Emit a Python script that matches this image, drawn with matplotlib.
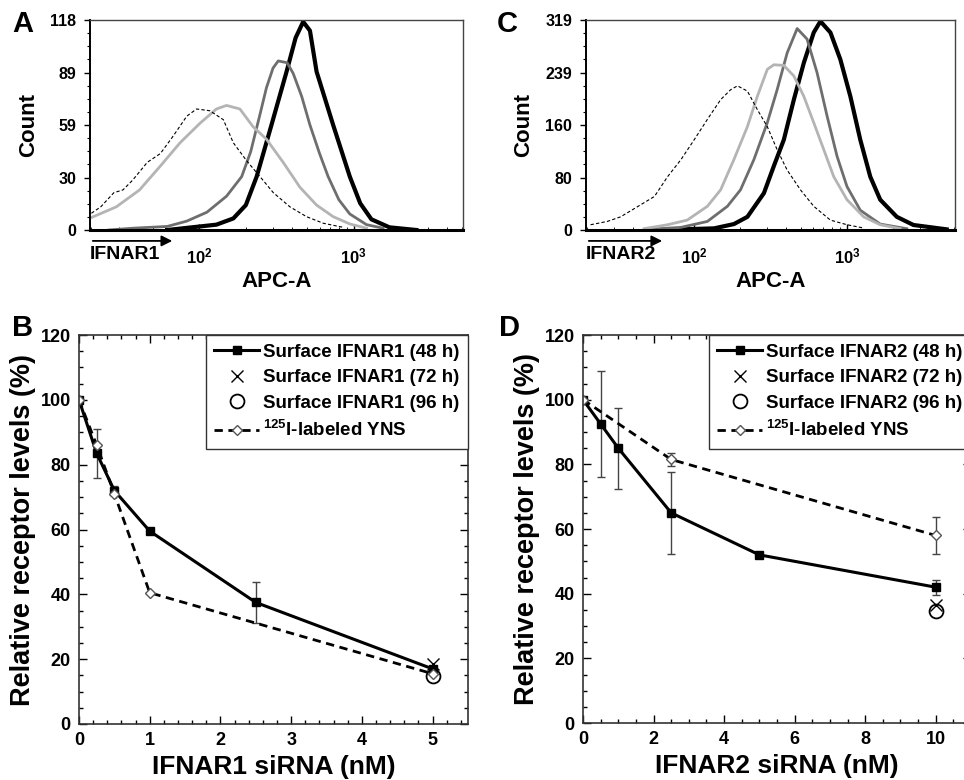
import numpy as np
import matplotlib
matplotlib.use("Agg")
import matplotlib.pyplot as plt
from matplotlib.ticker import MultipleLocator, AutoMinorLocator, FixedLocator, NullFormatter

plt.rcParams['font.family'] = ['Liberation Sans', 'DejaVu Sans']
plt.rcParams['font.weight'] = 'bold'
plt.rcParams['mathtext.fontset'] = 'custom'
plt.rcParams['mathtext.rm'] = 'Liberation Sans:bold'
plt.rcParams['mathtext.it'] = 'Liberation Sans:bold'
plt.rcParams['mathtext.bf'] = 'Liberation Sans:bold'

# ---- panel A: IFNAR1 flow histograms (APC-A value, count)
a_black_x = [62, 129, 166, 200, 235, 293, 367, 420, 470, 520, 574, 735, 942, 1100, 1300, 1700, 2541]
a_black_y = [0, 3, 6.5, 14, 30, 59, 89, 108, 117, 112, 89, 59, 30, 15, 6, 1.5, 0]
a_dgray_x = [26, 37, 62, 83, 112, 150, 188, 215, 247, 272, 300, 324, 370, 405, 460, 520, 600, 682, 800, 942, 1208, 1549]
a_dgray_y = [0, 1, 2, 5, 10, 19, 30, 44, 65, 80, 91, 95, 94, 88, 75, 59, 43, 30, 17, 9, 3, 1]
a_lgray_x = [20, 29, 41, 56, 75, 101, 129, 150, 183, 223, 272, 349, 448, 574, 735, 942, 1208]
a_lgray_y = [7, 13, 22.5, 36, 49, 60, 68, 70, 68, 58, 51, 38, 24, 14, 7.5, 3.4, 1]
a_ctrl_x = [20, 23, 28, 32, 37, 46, 56, 68, 83, 96, 117, 143, 166, 202, 247, 301, 386, 494, 634, 853]
a_ctrl_y = [9.4, 13, 21, 22.5, 28, 38, 43, 53, 64, 68, 67, 62, 49, 39, 30, 21, 13, 7.5, 3.8, 1.5]
a_ylabels = ['0', '30', '59', '89', '118']
a_ymax = 118

# ---- panel C: IFNAR2 flow histograms
c_black_x = [82, 135, 182, 223, 286, 332, 386, 449, 522, 606, 670, 779, 905, 1052, 1222, 1420, 1650, 2118, 2722, 4490]
c_black_y = [1, 2.5, 9, 20, 56, 97, 137, 198, 254, 300, 317, 300, 259, 203, 137, 81, 46, 20, 7.6, 1]
c_dgray_x = [50, 82, 122, 165, 201, 246, 301, 349, 406, 472, 548, 637, 741, 861, 1000, 1222, 1650, 2461]
c_dgray_y = [1, 4, 13, 36, 61, 107, 163, 213, 269, 306, 290, 239, 173, 112, 66, 30, 9, 2]
c_lgray_x = [47, 67, 90, 122, 149, 182, 223, 259, 301, 332, 386, 449, 522, 606, 705, 819, 1000, 1285, 1650, 2228]
c_lgray_y = [2, 8, 15, 36, 61, 107, 157, 203, 244, 251, 250, 234, 203, 163, 122, 81, 46, 20, 8, 2]
c_ctrl_x = [21, 27, 33, 43, 55, 67, 82, 100, 122, 149, 173, 192, 223, 259, 301, 349, 406, 496, 606, 779, 1000, 1285]
c_ctrl_y = [8, 13, 20, 36, 51, 81, 107, 137, 168, 198, 213, 219, 211, 183, 157, 122, 91, 61, 36, 15, 8, 3]
c_ylabels = ['0', '80', '160', '239', '319']
c_ymax = 319

# ---- panel B: IFNAR1 siRNA titration
b_conc = [0, 0.25, 0.5, 1, 2.5, 5]
b_48h = [100, 83.5, 72, 59.5, 37.5, 17]
b_48h_err = [0, 7.5, 1.5, 0.8, 6.3, 1]
b_yns_conc = [0, 0.25, 0.5, 1, 5]
b_yns = [100, 86, 71, 40.5, 15.5]
b_72h_conc, b_72h = [5], [18.6]
b_96h_conc, b_96h = [5], [14.7]

# ---- panel D: IFNAR2 siRNA titration
d_conc = [0, 0.5, 1, 2.5, 5, 10]
d_48h = [100, 92.5, 85, 65, 52, 42]
d_48h_err = [0, 16.5, 12.5, 12.7, 0.5, 2.3]
d_yns_conc = [0, 2.5, 10]
d_yns = [100, 81.5, 58]
d_yns_err = [0, 2, 5.8]
d_72h_conc, d_72h = [10], [36.5]
d_96h_conc, d_96h = [10], [34.5]

W, H = 964, 780
fig = plt.figure(figsize=(W / 100, H / 100), dpi=100)


def px_axes(left, top, right, bottom):
    return fig.add_axes([left / W, 1 - bottom / H, (right - left) / W, (bottom - top) / H])


def histogram(ax, curves, ymax, ylabels, receptor, arrow_frac):
    styles = [('black', 3.0, '-'), ('#6e6e6e', 2.0, '-'), ('#b4b4b4', 2.0, '-'), ('black', 0.8, (0, (3, 2)))]
    for (x, y), (col, lw, ls) in zip(curves, styles):
        ax.plot(x, y, color=col, lw=lw, ls=ls, solid_joinstyle='round')
    ax.set_xscale('log')
    ax.set_xlim(19.6, 5090)
    ax.set_ylim(0, ymax)
    ax.set_yticks(np.linspace(0, ymax, 5))
    ax.set_yticklabels(ylabels, fontsize=11.5, fontweight='bold')
    ax.yaxis.set_minor_locator(AutoMinorLocator(4))
    ax.tick_params(axis='y', which='major', direction='out', length=4, width=1, pad=6)
    ax.tick_params(axis='y', which='minor', direction='out', length=2, width=0.8)
    ax.xaxis.set_major_locator(FixedLocator([100, 1000]))
    ax.set_xticklabels([r'10$^{2}$', r'10$^{3}$'], fontsize=12, fontweight='bold')
    ax.xaxis.set_minor_formatter(NullFormatter())
    ax.tick_params(axis='x', which='major', direction='in', length=4, width=1, pad=12)
    ax.tick_params(axis='x', which='minor', direction='in', length=2, width=0.6)
    ax.spines['bottom'].set_linewidth(2.2)
    ax.spines['left'].set_linewidth(1.4)
    for s in ['top', 'right']:
        ax.spines[s].set_linewidth(1.0)
        ax.spines[s].set_color('#444444')
    ax.set_ylabel('Count', fontsize=16, fontweight='bold', labelpad=8)
    ax.set_xlabel('APC-A', fontsize=16, fontweight='bold', labelpad=3)
    ax.annotate('', xy=(arrow_frac, -0.052), xytext=(0, -0.052), xycoords='axes fraction',
                arrowprops=dict(arrowstyle='-|>', color='black', lw=1.3, mutation_scale=16),
                annotation_clip=False)
    ax.text(0.0, -0.115, receptor, transform=ax.transAxes, ha='left', va='center',
            fontsize=14, fontweight='bold')


def titration(ax, xmax, xmajor, xminor):
    ax.set_xlim(0, xmax)
    ax.set_ylim(0, 120)
    ax.xaxis.set_major_locator(MultipleLocator(xmajor))
    ax.xaxis.set_minor_locator(MultipleLocator(xminor))
    ax.yaxis.set_major_locator(MultipleLocator(20))
    ax.yaxis.set_minor_locator(MultipleLocator(5))
    ax.tick_params(which='both', direction='in', top=True, right=True, labelsize=13, width=1)
    ax.tick_params(which='major', length=6, pad=6)
    ax.tick_params(which='minor', length=3)
    for lab in ax.get_xticklabels() + ax.get_yticklabels():
        lab.set_fontweight('bold')
    for s in ax.spines.values():
        s.set_linewidth(1.2)
        s.set_color('#333333')
    ax.set_ylabel('Relative receptor levels (%)', fontsize=19.5, fontweight='bold', labelpad=3)


def curves(ax, receptor, conc, s48, s48_err, yconc, yns, yerr, c72, v72, c96, v96):
    ax.errorbar(conc, s48, yerr=s48_err, fmt='none', ecolor='#444444', elinewidth=1, capsize=3, capthick=1)
    if yerr is not None:
        ax.errorbar(yconc, yns, yerr=yerr, fmt='none', ecolor='#444444', elinewidth=1, capsize=3, capthick=1)
    ax.plot(conc, s48, color='black', lw=2.2, marker='s', ms=6, mfc='black',
            label=f'Surface {receptor} (48 h)')
    ax.plot(c72, v72, ls='none', marker='x', ms=8, mew=1, color='black',
            label=f'Surface {receptor} (72 h)')
    ax.plot(c96, v96, ls='none', marker='o', ms=10, mfc='none', mew=1.3, color='black',
            label=f'Surface {receptor} (96 h)')
    ax.plot(yconc, yns, color='black', lw=2.0, ls=(0, (3, 2)), marker='D', ms=5,
            mfc='white', mec='#555555', mew=1, label=r'$^{125}$I-labeled YNS')
    leg = ax.legend(loc='upper right', borderaxespad=0, fancybox=False,
                    framealpha=1, edgecolor='#333333', handlelength=2.4, handletextpad=0.2,
                    labelspacing=0.45, borderpad=0.45, prop={'weight': 'bold', 'size': 13.5})
    leg.get_frame().set_linewidth(1.0)


axA = px_axes(90, 20, 463, 230)
histogram(axA, [(a_black_x, a_black_y), (a_dgray_x, a_dgray_y), (a_lgray_x, a_lgray_y), (a_ctrl_x, a_ctrl_y)],
          a_ymax, a_ylabels, 'IFNAR1', 0.228)

axC = px_axes(586, 20, 955, 230)
histogram(axC, [(c_black_x, c_black_y), (c_dgray_x, c_dgray_y), (c_lgray_x, c_lgray_y), (c_ctrl_x, c_ctrl_y)],
          c_ymax, c_ylabels, 'IFNAR2', 0.214)

axB = px_axes(79, 335, 468, 724)
titration(axB, 5.5, 1, 0.2)
curves(axB, 'IFNAR1', b_conc, b_48h, b_48h_err, b_yns_conc, b_yns, None,
       b_72h_conc, b_72h, b_96h_conc, b_96h)
axB.set_xlabel('IFNAR1 siRNA (nM)', fontsize=19, fontweight='bold', labelpad=4)

axD = px_axes(583, 335, 971, 723)
titration(axD, 11, 2, 0.5)
curves(axD, 'IFNAR2', d_conc, d_48h, d_48h_err, d_yns_conc, d_yns, d_yns_err,
       d_72h_conc, d_72h, d_96h_conc, d_96h)
axD.set_xlabel('IFNAR2 siRNA (nM)', fontsize=19, fontweight='bold', labelpad=4)

# panel letters
for letter, x, y in [('A', 12, 24), ('C', 497, 24), ('B', 12, 328), ('D', 499, 328)]:
    fig.text(x / W, 1 - y / H, letter, fontsize=21, fontweight='bold', ha='left', va='center')

fig.savefig('out.png', dpi=100)
